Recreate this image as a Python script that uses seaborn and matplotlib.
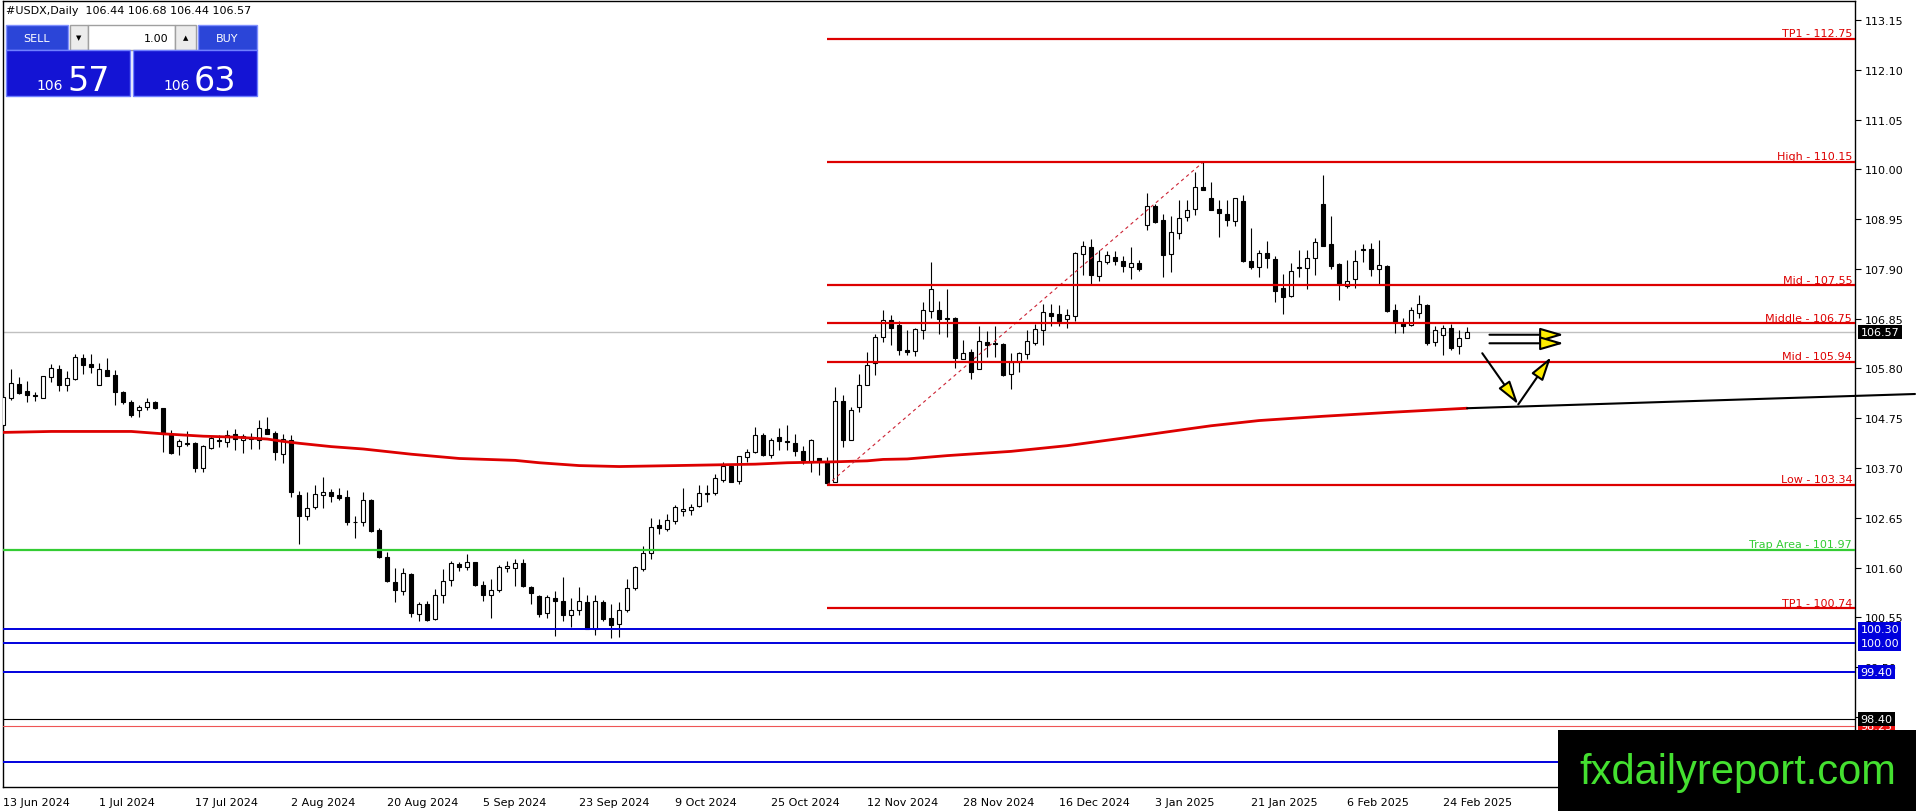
import seaborn as sns
import matplotlib.pyplot as plt
from matplotlib.patches import Rectangle
import pandas as pd
import numpy as np

# Daily candles for #USDX (one bar per trading day)
opens = [104.61, 105.18, 105.47, 105.32, 105.23, 105.18, 105.61, 105.79, 105.44, 105.58,
         106.01, 105.89, 105.46, 105.77, 105.66, 105.30, 105.09, 104.93, 104.98, 105.09,
         104.96, 104.42, 104.16, 104.22, 104.23, 103.69, 104.13, 104.29, 104.24, 104.41,
         104.30, 104.35, 104.30, 104.52, 104.44, 103.99, 104.28, 103.13, 102.68, 102.87,
         103.12, 103.19, 103.13, 103.08, 102.57, 102.57, 103.03, 102.39, 101.82, 101.30,
         101.11, 101.47, 100.62, 100.83, 100.51, 101.02, 101.34, 101.68, 101.61, 101.71,
         101.23, 101.01, 101.13, 101.58, 101.60, 101.69, 101.18, 101.00, 100.63, 100.95,
         100.89, 100.60, 100.71, 100.87, 100.31, 100.87, 100.53, 100.41, 100.71, 101.16,
         101.57, 101.91, 102.50, 102.42, 102.58, 102.80, 102.82, 102.89, 103.16, 103.17,
         103.45, 103.75, 103.43, 103.93, 104.03, 104.40, 103.98, 104.35, 104.27, 104.22,
         104.05, 103.82, 103.92, 103.83, 103.41, 105.11, 104.29, 104.98, 105.46, 105.92,
         106.46, 106.83, 106.72, 106.19, 106.16, 106.60, 107.02, 107.03, 106.86, 106.87,
         106.00, 106.14, 105.79, 106.35, 106.33, 106.32, 105.68, 105.93, 106.11, 106.34,
         106.60, 106.97, 106.95, 106.84, 106.90, 108.22, 108.36, 107.74, 108.04, 108.15,
         108.06, 107.93, 108.03, 108.82, 109.23, 108.93, 108.22, 108.66, 108.99, 109.17,
         109.63, 109.40, 109.17, 109.06, 108.91, 109.33, 108.06, 107.93, 108.23, 108.11,
         107.49, 107.32, 107.91, 107.91, 108.12, 109.27, 108.43, 108.00, 107.53, 107.69,
         108.32, 108.32, 107.90, 107.97, 107.03, 106.76, 106.72, 106.97, 107.14, 106.35,
         106.51, 106.65, 106.27, 106.44]
highs = [105.26, 105.79, 105.61, 105.54, 105.30, 105.65, 105.89, 105.87, 105.75, 106.11,
         106.11, 106.11, 105.92, 106.01, 105.77, 105.33, 105.14, 105.02, 105.17, 105.12,
         104.96, 104.51, 104.31, 104.47, 104.24, 104.19, 104.38, 104.40, 104.50, 104.52,
         104.42, 104.43, 104.72, 104.78, 104.49, 104.42, 104.40, 103.22, 103.19, 103.33,
         103.50, 103.26, 103.27, 103.23, 102.68, 103.19, 103.05, 102.43, 101.92, 101.58,
         101.58, 101.49, 100.88, 100.89, 101.15, 101.56, 101.73, 101.71, 101.89, 101.72,
         101.32, 101.36, 101.65, 101.73, 101.78, 101.79, 101.22, 101.02, 101.01, 101.11,
         101.41, 100.96, 101.18, 101.01, 101.01, 100.92, 100.83, 100.87, 101.36, 101.64,
         102.06, 102.65, 102.62, 102.72, 102.92, 103.27, 102.94, 103.33, 103.33, 103.57,
         103.83, 103.76, 103.96, 104.10, 104.56, 104.44, 104.33, 104.54, 104.61, 104.42,
         104.17, 104.31, 103.92, 103.93, 105.40, 105.23, 104.98, 105.68, 106.14, 106.53,
         107.04, 106.93, 106.79, 106.61, 106.65, 107.21, 108.05, 107.23, 107.48, 106.89,
         106.40, 106.21, 106.70, 106.58, 106.69, 106.34, 106.13, 106.14, 106.60, 106.74,
         107.16, 107.16, 107.14, 107.06, 108.25, 108.48, 108.53, 108.29, 108.27, 108.27,
         108.17, 108.36, 108.08, 109.51, 109.27, 109.06, 109.02, 109.36, 109.36, 109.95,
         110.15, 109.74, 109.36, 109.36, 109.39, 109.46, 108.76, 108.29, 108.48, 108.17,
         107.79, 108.03, 108.29, 108.29, 108.55, 109.87, 109.02, 108.02, 108.08, 108.30,
         108.43, 108.44, 108.50, 107.98, 107.16, 106.86, 107.09, 107.35, 107.16, 106.70,
         106.72, 106.74, 106.62, 106.68]
lows = [104.59, 105.14, 105.26, 105.09, 105.12, 105.17, 105.51, 105.33, 105.33, 105.56,
        105.68, 105.70, 105.44, 105.65, 105.02, 105.05, 104.77, 104.77, 104.92, 104.95,
        104.03, 104.00, 103.98, 104.17, 103.61, 103.61, 104.09, 104.14, 104.14, 104.07,
        104.02, 104.10, 104.09, 104.42, 103.87, 103.81, 103.08, 102.10, 102.61, 102.84,
        102.86, 102.99, 103.03, 102.50, 102.22, 102.48, 102.34, 101.80, 101.30, 100.87,
        101.02, 100.55, 100.48, 100.48, 100.50, 100.85, 101.22, 101.53, 101.54, 101.21,
        100.90, 100.53, 101.09, 101.50, 101.22, 101.18, 100.82, 100.55, 100.53, 100.16,
        100.48, 100.35, 100.60, 100.31, 100.18, 100.48, 100.11, 100.13, 100.66, 101.13,
        101.53, 101.77, 102.30, 102.36, 102.52, 102.69, 102.71, 102.87, 102.98, 103.12,
        103.40, 103.40, 103.36, 103.82, 104.02, 103.96, 103.91, 104.07, 104.07, 103.95,
        103.78, 103.62, 103.55, 103.34, 103.40, 104.15, 104.28, 104.89, 105.44, 105.67,
        106.35, 106.30, 106.09, 106.08, 106.07, 106.42, 106.87, 106.53, 106.46, 105.81,
        106.00, 105.58, 105.78, 106.04, 106.04, 105.65, 105.37, 105.73, 106.00, 106.30,
        106.30, 106.69, 106.69, 106.65, 106.79, 107.77, 107.58, 107.64, 108.00, 107.98,
        107.84, 107.69, 107.86, 108.71, 108.87, 107.72, 107.83, 108.52, 108.90, 109.04,
        109.57, 109.15, 108.57, 108.80, 108.80, 108.04, 107.89, 107.72, 107.91, 107.20,
        106.94, 107.30, 107.72, 107.48, 107.76, 108.38, 107.89, 107.25, 107.49, 107.49,
        108.04, 107.75, 107.58, 107.00, 106.54, 106.54, 106.70, 106.86, 106.30, 106.28,
        106.09, 106.18, 106.11, 106.44]
closes = [105.19, 105.49, 105.28, 105.23, 105.21, 105.63, 105.80, 105.44, 105.59, 106.04,
          105.88, 105.82, 105.79, 105.65, 105.31, 105.10, 104.82, 104.99, 105.09, 104.97,
          104.42, 104.02, 104.26, 104.20, 103.69, 104.16, 104.33, 104.26, 104.40, 104.31,
          104.37, 104.31, 104.54, 104.42, 104.03, 104.31, 103.19, 102.69, 102.85, 103.15,
          103.19, 103.10, 103.06, 102.57, 102.55, 103.03, 102.36, 101.82, 101.32, 101.13,
          101.49, 100.63, 100.83, 100.50, 101.01, 101.32, 101.69, 101.61, 101.71, 101.24,
          101.02, 101.13, 101.61, 101.63, 101.69, 101.20, 101.06, 100.61, 100.97, 100.89,
          100.60, 100.70, 100.89, 100.31, 100.89, 100.51, 100.39, 100.71, 101.16, 101.61,
          101.91, 102.45, 102.44, 102.60, 102.87, 102.83, 102.88, 103.17, 103.18, 103.48,
          103.75, 103.41, 103.95, 104.03, 104.40, 103.98, 104.29, 104.26, 104.25, 104.05,
          103.86, 104.29, 103.85, 103.38, 105.12, 104.30, 104.93, 105.46, 105.88, 106.46,
          106.83, 106.65, 106.18, 106.14, 106.63, 107.03, 107.48, 106.84, 106.84, 106.02,
          106.12, 105.73, 106.37, 106.30, 106.32, 105.66, 105.93, 106.12, 106.37, 106.63,
          107.00, 106.91, 106.81, 106.92, 108.24, 108.39, 107.78, 108.06, 108.19, 108.06,
          107.97, 108.02, 107.89, 109.22, 108.88, 108.20, 108.67, 108.98, 109.14, 109.62,
          109.57, 109.15, 109.07, 108.92, 109.39, 108.06, 107.93, 108.23, 108.12, 107.44,
          107.30, 107.86, 107.93, 108.12, 108.46, 108.39, 107.97, 107.58, 107.65, 108.06,
          108.29, 107.90, 107.98, 107.02, 106.77, 106.69, 107.03, 107.16, 106.33, 106.60,
          106.65, 106.24, 106.44, 106.57]

# date labels, one every 12 bars
date_labels = ['13 Jun 2024', '1 Jul 2024', '17 Jul 2024', '2 Aug 2024', '20 Aug 2024',
               '5 Sep 2024', '23 Sep 2024', '9 Oct 2024', '25 Oct 2024', '12 Nov 2024',
               '28 Nov 2024', '16 Dec 2024', '3 Jan 2025', '21 Jan 2025', '6 Feb 2025',
               '24 Feb 2025']

# moving average (red curve), sampled at these bars
ma_bar = [0, 6, 16, 20, 25, 29, 33, 35, 37, 41, 45, 51, 57, 64, 67, 72, 77, 84, 94, 98,
          104, 108, 110, 113, 118, 126, 133, 140, 148, 151, 157, 165, 173, 183]
ma_val = [104.45, 104.47, 104.47, 104.42, 104.37, 104.35, 104.31, 104.26, 104.22, 104.15,
          104.10, 103.99, 103.90, 103.86, 103.81, 103.75, 103.73, 103.75, 103.78, 103.81,
          103.83, 103.85, 103.88, 103.89, 103.96, 104.05, 104.17, 104.33, 104.52, 104.59,
          104.70, 104.79, 104.87, 104.96]

# projection levels drawn from the swing low bar
level_names = ['TP1', 'High', 'Mid', 'Middle', 'Mid', 'Low', 'TP1']
level_prices = [112.75, 110.15, 107.55, 106.75, 105.94, 103.34, 100.74]
level_start_bar = 103
swing_bars = [103, 150]
swing_prices = [103.34, 110.15]

trap_price = 101.97
blue_prices = [100.30, 100.00, 99.40, 97.50]
blue_labels = [100.30, 100.00, 99.40]
black_price = 98.40
red_price = 98.25
bid, ask = 106.57, 106.63

trend_bars = [183, 239]
trend_prices = [104.96, 105.26]

# arrows: (tail bar, tail price, tip bar, tip price)
arrows = [(185.8, 106.51, 195.1, 106.51),
          (185.8, 106.33, 195.1, 106.33),
          (184.9, 106.12, 189.4, 105.04),
          (189.4, 105.04, 193.5, 106.04)]

tick_top = 113.15
tick_step = 1.05
hidden_ticks = [98.45, 97.40]   # covered by the price boxes / watermark

df = pd.DataFrame({'open': opens, 'high': highs, 'low': lows, 'close': closes})
df['bar'] = np.arange(len(df))
ma = pd.DataFrame({'bar': ma_bar, 'ma': ma_val})

sns.set_theme(style='white')
plt.rcParams['font.family'] = ['DejaVu Sans']

W, H = 1916, 812
fig = plt.figure(figsize=(W / 100, H / 100), dpi=100)
fig.patch.set_facecolor('white')
ax = fig.add_axes([2.5 / W, (H - 788) / H, (1855 - 2.5) / W, 786 / H])
ax.set_facecolor('white')
ax.set_xlim(-0.1, 231.5)
ax.set_ylim(96.97, 113.55)

RED = '#dd0000'

# bid line
ax.axhline(bid, color='#c0c0c0', lw=1, zorder=1)

# candles
up = df['close'] >= df['open']
ax.vlines(df['bar'], df['low'], df['high'], color='black', lw=0.8, zorder=3)
body_lo = df[['open', 'close']].min(axis=1)
body_h = (df['close'] - df['open']).abs()
ax.bar(df['bar'], body_h, bottom=body_lo, width=0.5,
       color=np.where(up, 'white', 'black'), edgecolor='black', linewidth=0.8, zorder=4)

# moving average + trend extension
sns.lineplot(data=ma, x='bar', y='ma', color=RED, lw=2, ax=ax, zorder=5)
ax.plot(trend_bars, trend_prices, color='black', lw=1.5, zorder=5, clip_on=False)

# swing dashed line
ax.plot(swing_bars, swing_prices, color='#cc2233', lw=0.8, ls=(0, (3, 3)), zorder=5)

# horizontal levels
xmax = ax.get_xlim()[1]
for name, p in zip(level_names, level_prices):
    ax.plot([level_start_bar, xmax], [p, p], color=RED, lw=1.6, zorder=6, solid_capstyle='butt')
    ax.annotate(f'{name} - {p:.2f}', xy=(1, p), xycoords=('axes fraction', 'data'),
                xytext=(-2, 0.5), textcoords='offset points', ha='right', va='bottom',
                fontsize=8, color=RED, zorder=7)
ax.axhline(trap_price, color='#33cc33', lw=1.6, zorder=6)
ax.annotate(f'Trap Area - {trap_price:.2f}', xy=(1, trap_price), xycoords=('axes fraction', 'data'),
            xytext=(-2, 0.5), textcoords='offset points', ha='right', va='bottom',
            fontsize=8, color='#33cc33', zorder=7)
for p in blue_prices:
    ax.axhline(p, color='#0000dd', lw=1.4, zorder=6)
ax.axhline(black_price, color='black', lw=0.8, zorder=6)
ax.axhline(red_price, color='#ee5555', lw=0.8, zorder=6)

# arrows
for x0, y0, x1, y1 in arrows:
    ax.annotate('', xy=(x1, y1), xytext=(x0, y0),
                arrowprops=dict(arrowstyle='-|>,head_length=1.2,head_width=0.35',
                                fc='#ffee00', ec='black', lw=1.5, shrinkA=0, shrinkB=0),
                zorder=8)

# axes styling
for s in ax.spines.values():
    s.set_color('black')
    s.set_linewidth(1)
yt = [round(tick_top - tick_step * k, 2) for k in range(16)]
ax.yaxis.tick_right()
ax.set_yticks(yt)
ax.set_yticklabels(['' if v in hidden_ticks else f'{v:.2f}' for v in yt])
ax.set_xticks(range(0, 12 * len(date_labels), 12))
ax.set_xticklabels(date_labels, ha='left')
ax.tick_params(axis='y', direction='out', length=4, width=0.8, pad=3, labelsize=8, colors='black')
ax.tick_params(axis='x', direction='out', length=4, width=0.8, pad=3, labelsize=8, colors='black')
ax.set_xlabel('')
ax.set_ylabel('')


def price_box(p, fc, fg='white', z=9):
    ax.annotate(f'{p:.2f}', xy=(1, p), xycoords=('axes fraction', 'data'),
                xytext=(4, 0), textcoords='offset points', ha='left', va='center',
                fontsize=8, color=fg, zorder=z, annotation_clip=False,
                bbox=dict(boxstyle='square,pad=0.2', fc=fc, ec='none'))


price_box(bid, 'black')
for p in blue_labels:
    price_box(p, '#0000dd')
price_box(red_price, '#ee1111', z=9)
price_box(black_price, 'black', z=10)

# overlay in pixel space: header, trade panel, watermark
ov = fig.add_axes([0, 0, 1, 1])
ov.set_xlim(0, W)
ov.set_ylim(H, 0)
ov.axis('off')
ov.patch.set_alpha(0)

ov.text(6, 11, f'#USDX,Daily  {opens[-1]:.2f} {highs[-1]:.2f} {lows[-1]:.2f} {closes[-1]:.2f}',
        fontsize=8, va='center', ha='left', color='black')

BTN = '#2b45d8'
PANEL = '#1414d4'
ov.add_patch(Rectangle((6, 26), 62, 25, fc=BTN, ec='#8090ff', lw=1))
ov.text(37, 38.5, 'SELL', color='white', fontsize=8, ha='center', va='center')
ov.add_patch(Rectangle((70, 26), 18, 25, fc='#ececec', ec='#a0a0a0', lw=1))
ov.text(79, 38.5, '\u25bc', color='black', fontsize=5, ha='center', va='center')
ov.add_patch(Rectangle((88, 26), 87, 25, fc='white', ec='#a0a0a0', lw=1))
ov.text(168, 38.5, '1.00', color='black', fontsize=8, ha='right', va='center')
ov.add_patch(Rectangle((175, 26), 21, 25, fc='#ececec', ec='#a0a0a0', lw=1))
ov.text(185.5, 38.5, '\u25b2', color='black', fontsize=5, ha='center', va='center')
ov.add_patch(Rectangle((198, 26), 59, 25, fc=BTN, ec='#8090ff', lw=1))
ov.text(227, 38.5, 'BUY', color='white', fontsize=8, ha='center', va='center')

for x0, p in [(6, bid), (133, ask)]:
    ov.add_patch(Rectangle((x0, 51), 124, 46, fc=PANEL, ec='#7080ff', lw=1))
    big, small = f'{p:.2f}'.split('.')
    ov.text(x0 + 57, 90, big, color='white', fontsize=10, ha='right', va='baseline')
    ov.text(x0 + 61, 91, small, color='white', fontsize=24, ha='left', va='baseline')

ov.add_patch(Rectangle((1558, 731), W - 1558, H - 731, fc='black', ec='none', zorder=20))
ov.text(1738, 773, 'fxdailyreport.com', color='#44e030', fontsize=30,
        family=['Liberation Sans', 'DejaVu Sans'], ha='center', va='center', zorder=21)

fig.savefig('out.png', dpi=100)
